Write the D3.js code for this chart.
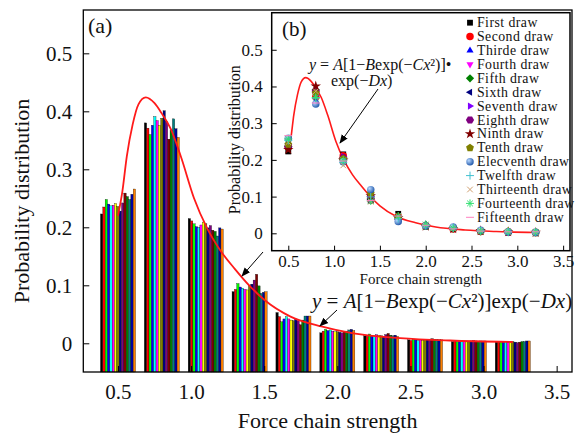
<!DOCTYPE html>
<html>
<head>
<meta charset="utf-8">
<script src="https://cdn.jsdelivr.net/npm/d3@7"></script>
<style>
  body { margin: 0; background: #fff; }
  svg { display: block; }
  text { font-family: "Liberation Serif", "Times New Roman", serif; fill: #111; }
</style>
</head>
<body>
<svg id="chart" width="577" height="438"></svg>
<script>
// Force chain strength classes (bin centres)
const strengths = [0.5, 0.8, 1.1, 1.4, 1.7, 2.0, 2.3, 2.6, 2.9, 3.2];

// Probability distribution of each of the 15 draws
const firstDraw      = [0.223, 0.380, 0.215, 0.089, 0.053, 0.018, 0.013, 0.006, 0.003, 0.003];
const secondDraw     = [0.235, 0.371, 0.211, 0.093, 0.046, 0.021, 0.012, 0.005, 0.004, 0.002];
const thirdDraw      = [0.248, 0.360, 0.206, 0.103, 0.037, 0.024, 0.016, 0.007, 0.003, 0.003];
const fourthDraw     = [0.240, 0.376, 0.201, 0.097, 0.042, 0.022, 0.014, 0.006, 0.004, 0.002];
const fifthDraw      = [0.237, 0.391, 0.200, 0.095, 0.046, 0.023, 0.013, 0.005, 0.003, 0.003];
const sixthDraw      = [0.238, 0.384, 0.204, 0.093, 0.042, 0.021, 0.015, 0.006, 0.004, 0.002];
const seventhDraw    = [0.241, 0.376, 0.209, 0.092, 0.040, 0.020, 0.014, 0.005, 0.003, 0.003];
const eighthDraw     = [0.236, 0.388, 0.206, 0.100, 0.039, 0.020, 0.013, 0.006, 0.003, 0.003];
const ninthDraw      = [0.228, 0.401, 0.199, 0.102, 0.042, 0.019, 0.012, 0.007, 0.004, 0.002];
const tenthDraw      = [0.242, 0.382, 0.203, 0.109, 0.039, 0.018, 0.015, 0.006, 0.005, 0.001];
const eleventhDraw   = [0.259, 0.352, 0.195, 0.119, 0.032, 0.020, 0.017, 0.008, 0.004, 0.002];
const twelfthDraw    = [0.253, 0.368, 0.193, 0.099, 0.040, 0.021, 0.014, 0.007, 0.003, 0.003];
const thirteenthDraw = [0.248, 0.387, 0.185, 0.086, 0.047, 0.023, 0.013, 0.007, 0.004, 0.003];
const fourteenthDraw = [0.257, 0.370, 0.199, 0.088, 0.047, 0.024, 0.014, 0.006, 0.004, 0.004];
const fifteenthDraw  = [0.266, 0.355, 0.197, 0.089, 0.047, 0.022, 0.012, 0.006, 0.004, 0.004];

const drawNames = ["First draw", "Second draw", "Thirde draw", "Fourth draw", "Fifth draw",
  "Sixth draw", "Seventh draw", "Eighth draw", "Ninth draw", "Tenth draw",
  "Elecventh draw", "Twelfth draw", "Thirteenth draw", "Fourteenth draw", "Fifteenth draw"];

// Fitted curve y = A[1-Bexp(-Cx^2)]exp(-Dx), sampled along its trace
const fitX = [0.5, 0.53, 0.56, 0.6, 0.64, 0.69, 0.75, 0.8, 0.86, 0.93, 1.02, 1.11, 1.2, 1.3, 1.4, 1.5, 1.68, 1.89, 2.11, 2.43, 2.77, 3.2];
const fitY = [0.22, 0.262, 0.322, 0.377, 0.412, 0.424, 0.414, 0.396, 0.37, 0.322, 0.25, 0.198, 0.16, 0.128, 0.099, 0.075, 0.046, 0.029, 0.017, 0.009, 0.0048, 0.0022];

const mainXTicks = [0.5, 1.0, 1.5, 2.0, 2.5, 3.0, 3.5];
const mainYTicks = [0, 0.1, 0.2, 0.3, 0.4, 0.5];
const insetXTicks = [0.5, 1.0, 1.5, 2.0, 2.5, 3.0, 3.5];
const insetYTicks = [0, 0.1, 0.2, 0.3, 0.4, 0.5];

const series = [firstDraw, secondDraw, thirdDraw, fourthDraw, fifthDraw, sixthDraw, seventhDraw,
  eighthDraw, ninthDraw, tenthDraw, eleventhDraw, twelfthDraw, thirteenthDraw, fourteenthDraw, fifteenthDraw];

// bar fills for the histogram (panel a)
const barColors = ["#000000", "#ff0000", "#00ff00", "#0000ff", "#00ffff", "#ff00ff", "#ffff00",
  "#808000", "#000080", "#800080", "#800000", "#008000", "#008080", "#0000a0", "#ff8000"];
// scatter colours for panel b
const markColors = ["#000000", "#ff0000", "#0000ff", "#ff00ff", "#008000", "#000080", "#8000ff",
  "#800080", "#800000", "#808000", "#3070c0", "#40c0d0", "#d0a070", "#30e070", "#ff80c0"];
const markShapes = ["square", "circle", "triUp", "triDown", "diamond", "triLeft", "triRight",
  "hexagon", "star", "pentagon", "sphere", "plus", "cross", "asterisk", "dash"];

const svg = d3.select("#chart");
const fmt = d => d === 0 ? "0" : d3.format(".1f")(d);

// ---------- panel (a): grouped bars ----------
const M = { left: 83.3, right: 572, top: 10, bottom: 372 };
const x = d3.scaleLinear().domain([0.2627, 3.605]).range([M.left, M.right]);
const y = d3.scaleLinear().domain([-0.0495, 0.5747]).range([M.bottom, M.top]);

const groupWidth = x(0.5 + 0.24) - x(0.5);
const inner = d3.scaleBand().domain(d3.range(series.length)).range([-groupWidth / 2, groupWidth / 2]).padding(0);

const bars = svg.append("g");
strengths.forEach((s, i) => {
  series.forEach((vals, j) => {
    bars.append("rect")
      .attr("x", x(s) + inner(j))
      .attr("width", inner.bandwidth())
      .attr("y", y(vals[i]))
      .attr("height", y.range()[0] - y(vals[i]))
      .attr("fill", barColors[j])
      .attr("stroke", "#000")
      .attr("stroke-width", 0.3);
  });
});

const line = d3.line().x(d => x(d[0])).y(d => y(d[1])).curve(d3.curveMonotoneX);
svg.append("path").datum(fitX.map((v, i) => [v, fitY[i]]))
  .attr("d", line).attr("fill", "none").attr("stroke", "#ff1a1a").attr("stroke-width", 1.8);

// axes with inward ticks
const yAxis = d3.axisLeft(y).tickValues(mainYTicks).tickFormat(fmt).tickSizeInner(-6).tickSizeOuter(0).tickPadding(11);
const gy = svg.append("g").attr("transform", `translate(${M.left},0)`).call(yAxis);
const xAxis = d3.axisBottom(x).tickValues(mainXTicks).tickFormat(d3.format(".1f")).tickSizeInner(-6).tickSizeOuter(0).tickPadding(12);
const gx = svg.append("g").attr("transform", `translate(0,${M.bottom})`).call(xAxis);
[gy, gx].forEach(g => {
  g.select(".domain").remove();
  g.selectAll("line").attr("stroke", "#000").attr("stroke-width", 1);
  g.selectAll("text").style("font-size", "21px").style("font-family", '"Liberation Serif", serif').attr("fill", "#111");
});
svg.append("rect").attr("x", M.left).attr("y", M.top).attr("width", M.right - M.left).attr("height", M.bottom - M.top)
  .attr("fill", "none").attr("stroke", "#000").attr("stroke-width", 1.3);

svg.append("text").attr("transform", `translate(29,${(M.top + M.bottom) / 2 + 10}) rotate(-90)`)
  .attr("text-anchor", "middle").style("font-size", "22px").text("Probability distribution");
svg.append("text").attr("x", (M.left + M.right) / 2).attr("y", 428)
  .attr("text-anchor", "middle").style("font-size", "22px").text("Force chain strength");
svg.append("text").attr("x", 88).attr("y", 33).style("font-size", "22px").text("(a)");

// arrowhead
const defs = svg.append("defs");
defs.append("marker").attr("id", "ah").attr("viewBox", "0 0 10 10").attr("refX", 9).attr("refY", 5)
  .attr("markerWidth", 9).attr("markerHeight", 9).attr("markerUnits", "userSpaceOnUse").attr("orient", "auto")
  .append("path").attr("d", "M0,1 L10,5 L0,9 Z").attr("fill", "#000");
const sph = defs.append("radialGradient").attr("id", "sph").attr("cx", "35%").attr("cy", "35%").attr("r", "70%");
sph.append("stop").attr("offset", "0%").attr("stop-color", "#b8d8ff");
sph.append("stop").attr("offset", "100%").attr("stop-color", "#1d55a8");

function formula(g, xPos, yPos, size, parts) {
  const t = g.append("text").attr("x", xPos).attr("y", yPos).style("font-size", size + "px");
  parts.forEach(p => t.append("tspan").style("font-style", p[1] ? "italic" : "normal").text(p[0]));
  return t;
}
const fParts = [["y", 1], [" = ", 0], ["A", 1], ["[1−", 0], ["B", 1], ["exp(−", 0], ["Cx", 1], ["²)]", 0]];
formula(svg, 312, 308, 21, fParts.concat([["exp(−", 0], ["Dx", 1], [")", 0]]));
svg.append("line").attr("x1", 337).attr("y1", 310).attr("x2", 320).attr("y2", 326)
  .attr("stroke", "#000").attr("stroke-width", 1).attr("marker-end", "url(#ah)");
svg.append("line").attr("x1", 263).attr("y1", 252).attr("x2", 242).attr("y2", 276)
  .attr("stroke", "#000").attr("stroke-width", 1).attr("marker-end", "url(#ah)");

// ---------- panel (b): inset scatter ----------
const I = { left: 271.7, right: 570, top: 12.7, bottom: 250.7 };
const xi = d3.scaleLinear().domain([0.319, 3.575]).range([I.left, I.right]);
const yi = d3.scaleLinear().domain([-0.0474, 0.601]).range([I.bottom, I.top]);

svg.append("rect").attr("x", I.left).attr("y", I.top).attr("width", I.right - I.left).attr("height", I.bottom - I.top)
  .attr("fill", "#fff").attr("stroke", "none");

const lineI = d3.line().x(d => xi(d[0])).y(d => yi(d[1])).curve(d3.curveMonotoneX);
svg.append("path").datum(fitX.map((v, i) => [v, fitY[i]]))
  .attr("d", lineI).attr("fill", "none").attr("stroke", "#ff1a1a").attr("stroke-width", 1.6);

// marker shapes
function poly(n, rot) {
  return { draw(ctx, size) {
    const r = Math.sqrt(size) * 0.62;
    for (let k = 0; k < n; k++) {
      const a = rot + k * 2 * Math.PI / n;
      k ? ctx.lineTo(r * Math.cos(a), r * Math.sin(a)) : ctx.moveTo(r * Math.cos(a), r * Math.sin(a));
    }
    ctx.closePath();
  } };
}
function strokes(angles) {
  return { draw(ctx, size) {
    const r = Math.sqrt(size) * 0.6;
    angles.forEach(a => { ctx.moveTo(-r * Math.cos(a), -r * Math.sin(a)); ctx.lineTo(r * Math.cos(a), r * Math.sin(a)); });
  } };
}
const shapeTypes = {
  square: poly(4, Math.PI / 4), circle: d3.symbolCircle, triUp: poly(3, -Math.PI / 2), triDown: poly(3, Math.PI / 2),
  diamond: poly(4, 0), triLeft: poly(3, Math.PI), triRight: poly(3, 0), hexagon: poly(6, 0),
  star: d3.symbolStar, pentagon: poly(5, -Math.PI / 2), sphere: d3.symbolCircle,
  plus: strokes([0, Math.PI / 2]), cross: strokes([Math.PI / 4, -Math.PI / 4]),
  asterisk: strokes([0, Math.PI / 2, Math.PI / 4, -Math.PI / 4]), dash: strokes([0])
};
const lineShapes = new Set(["plus", "cross", "asterisk", "dash"]);
function drawMark(g, j, cx, cy) {
  const shape = markShapes[j];
  const p = g.append("path").attr("transform", `translate(${cx},${cy})`)
    .attr("d", d3.symbol().type(shapeTypes[shape]).size(shape === "star" ? 34 : 44)());
  if (lineShapes.has(shape)) p.attr("fill", "none").attr("stroke", markColors[j]).attr("stroke-width", 1);
  else if (shape === "sphere") p.attr("fill", "url(#sph)");
  else p.attr("fill", markColors[j]);
}

const pts = svg.append("g");
series.forEach((vals, j) => vals.forEach((v, i) => drawMark(pts, j, xi(strengths[i]), yi(v))));

const yAxisI = d3.axisLeft(yi).tickValues(insetYTicks).tickFormat(fmt).tickSizeInner(-5).tickSizeOuter(0).tickPadding(9);
const gyi = svg.append("g").attr("transform", `translate(${I.left},0)`).call(yAxisI);
const xAxisI = d3.axisBottom(xi).tickValues(insetXTicks).tickFormat(d3.format(".1f")).tickSizeInner(-5).tickSizeOuter(0).tickPadding(4);
const gxi = svg.append("g").attr("transform", `translate(0,${I.bottom})`).call(xAxisI);
[gyi, gxi].forEach(g => {
  g.select(".domain").remove();
  g.selectAll("line").attr("stroke", "#000").attr("stroke-width", 1);
  g.selectAll("text").style("font-size", "17px").style("font-family", '"Liberation Serif", serif').attr("fill", "#111");
});
svg.append("rect").attr("x", I.left).attr("y", I.top).attr("width", I.right - I.left).attr("height", I.bottom - I.top)
  .attr("fill", "none").attr("stroke", "#000").attr("stroke-width", 1.5);

svg.append("text").attr("transform", `translate(240,${(I.top + I.bottom) / 2 + 8}) rotate(-90)`)
  .attr("text-anchor", "middle").style("font-size", "16px").text("Probability distribution");
svg.append("text").attr("x", (I.left + I.right) / 2).attr("y", 284)
  .attr("text-anchor", "middle").style("font-size", "15px").text("Force chain strength");
svg.append("text").attr("x", 282).attr("y", 36).style("font-size", "21px").text("(b)");

formula(svg, 309, 70, 16, fParts.concat([["•", 0]]));
formula(svg, 331, 86, 16, [["exp(−", 0], ["Dx", 1], [")", 0]]);
svg.append("line").attr("x1", 378).attr("y1", 89).attr("x2", 340).attr("y2", 143)
  .attr("stroke", "#000").attr("stroke-width", 1).attr("marker-end", "url(#ah)");

// legend
const leg = svg.append("g");
drawNames.forEach((name, j) => {
  const ly = 22.7 + j * 13.9;
  drawMark(leg, j, 470, ly);
  leg.append("text").attr("x", 477).attr("y", ly + 4.5).style("font-size", "13.8px")
    .style("letter-spacing", "0.45px").text(name);
});
</script>
</body>
</html>
